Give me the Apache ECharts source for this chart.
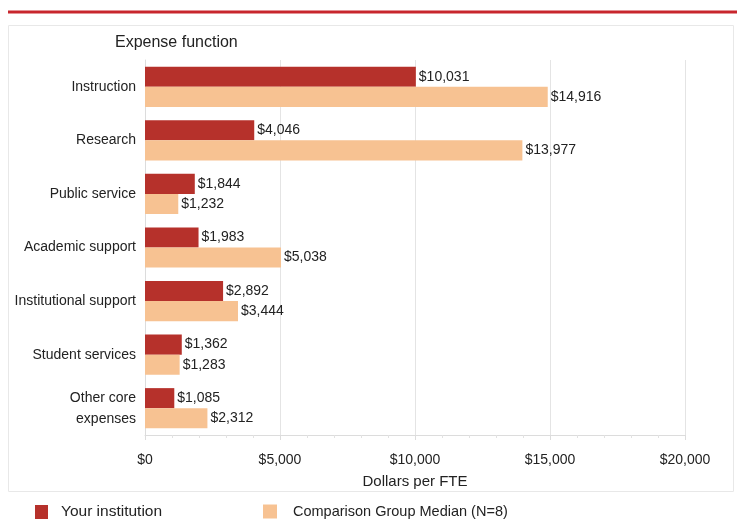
<!DOCTYPE html>
<html>
<head>
<meta charset="utf-8">
<script src="https://cdn.jsdelivr.net/npm/echarts@6/dist/echarts.min.js"></script>
<style>html,body{margin:0;padding:0;background:#fff;}#c{width:739px;height:521px;}</style>
</head>
<body>
<div id="c"></div>
<script>
const categories = ['Instruction','Research','Public service','Academic support','Institutional support','Student services','Other core\nexpenses'];
const yourInstitution = [10031, 4046, 1844, 1983, 2892, 1362, 1085];
const comparisonMedian = [14916, 13977, 1232, 5038, 3444, 1283, 2312];
const seriesNames = ['Your institution', 'Comparison Group Median (N=8)'];

const fmt = v => '$' + v.toLocaleString('en-US');
const FONT = 'Liberation Sans, Arial, sans-serif';
const chart = echarts.init(document.getElementById('c'));
chart.setOption({
  animation: false,
  textStyle: { fontFamily: FONT },
  graphic: [
    { type: 'line', shape: { x1: 8, y1: 12, x2: 737, y2: 12 }, style: { stroke: '#c8262d', lineWidth: 3 } },
    { type: 'rect', shape: { x: 8.5, y: 25.5, width: 725, height: 466 }, style: { fill: 'none', stroke: '#e8e8e8', lineWidth: 1 } },
    { type: 'text', left: 115, top: 35, style: { text: 'Expense function', fontSize: 16, fill: '#222', fontFamily: FONT } }
  ],
  grid: { left: 145, right: 54, top: 60, bottom: 86, containLabel: false },
  legend: [
    { left: 30, top: 499, itemWidth: 13, itemHeight: 14, icon: 'rect',
      textStyle: { fontSize: 15.5, color: '#222', padding: [0, 0, 0, 8], fontFamily: FONT }, data: [seriesNames[0]] },
    { left: 258, top: 499, itemWidth: 14, itemHeight: 14, icon: 'rect',
      textStyle: { fontSize: 14.5, color: '#222', padding: [0, 0, 0, 11], fontFamily: FONT }, data: [seriesNames[1]] }
  ],
  xAxis: {
    type: 'value', min: 0, max: 20000, interval: 5000,
    name: 'Dollars per FTE', nameLocation: 'middle', nameGap: 39,
    nameTextStyle: { fontSize: 15, color: '#222' },
    axisLine: { show: true, lineStyle: { color: '#dcdcdc' } },
    axisTick: { show: true, length: 5, lineStyle: { color: '#dcdcdc' } },
    minorTick: { show: true, splitNumber: 5, length: 3, lineStyle: { color: '#e2e2e2' } },
    axisLabel: { formatter: v => fmt(v), fontSize: 14, color: '#222', margin: 18 },
    splitLine: { show: true, lineStyle: { color: '#e4e4e4' } }
  },
  yAxis: {
    type: 'category', data: categories, inverse: true,
    axisLine: { show: true, lineStyle: { color: '#dcdcdc' } },
    axisTick: { show: false },
    axisLabel: { fontSize: 14, color: '#222', margin: 9, lineHeight: 21 }
  },
  series: [
    {
      name: seriesNames[0], type: 'bar', data: yourInstitution,
      itemStyle: { color: '#b6312b' },
      barCategoryGap: '25%', barGap: '0%',
      label: { show: true, position: 'right', distance: 3, formatter: p => fmt(p.value), fontSize: 14, color: '#222' }
    },
    {
      name: seriesNames[1], type: 'bar', data: comparisonMedian,
      itemStyle: { color: '#f7c292' },
      barCategoryGap: '25%', barGap: '0%',
      label: { show: true, position: 'right', distance: 3, formatter: p => fmt(p.value), fontSize: 14, color: '#222' }
    }
  ]
});
</script>
</body>
</html>
